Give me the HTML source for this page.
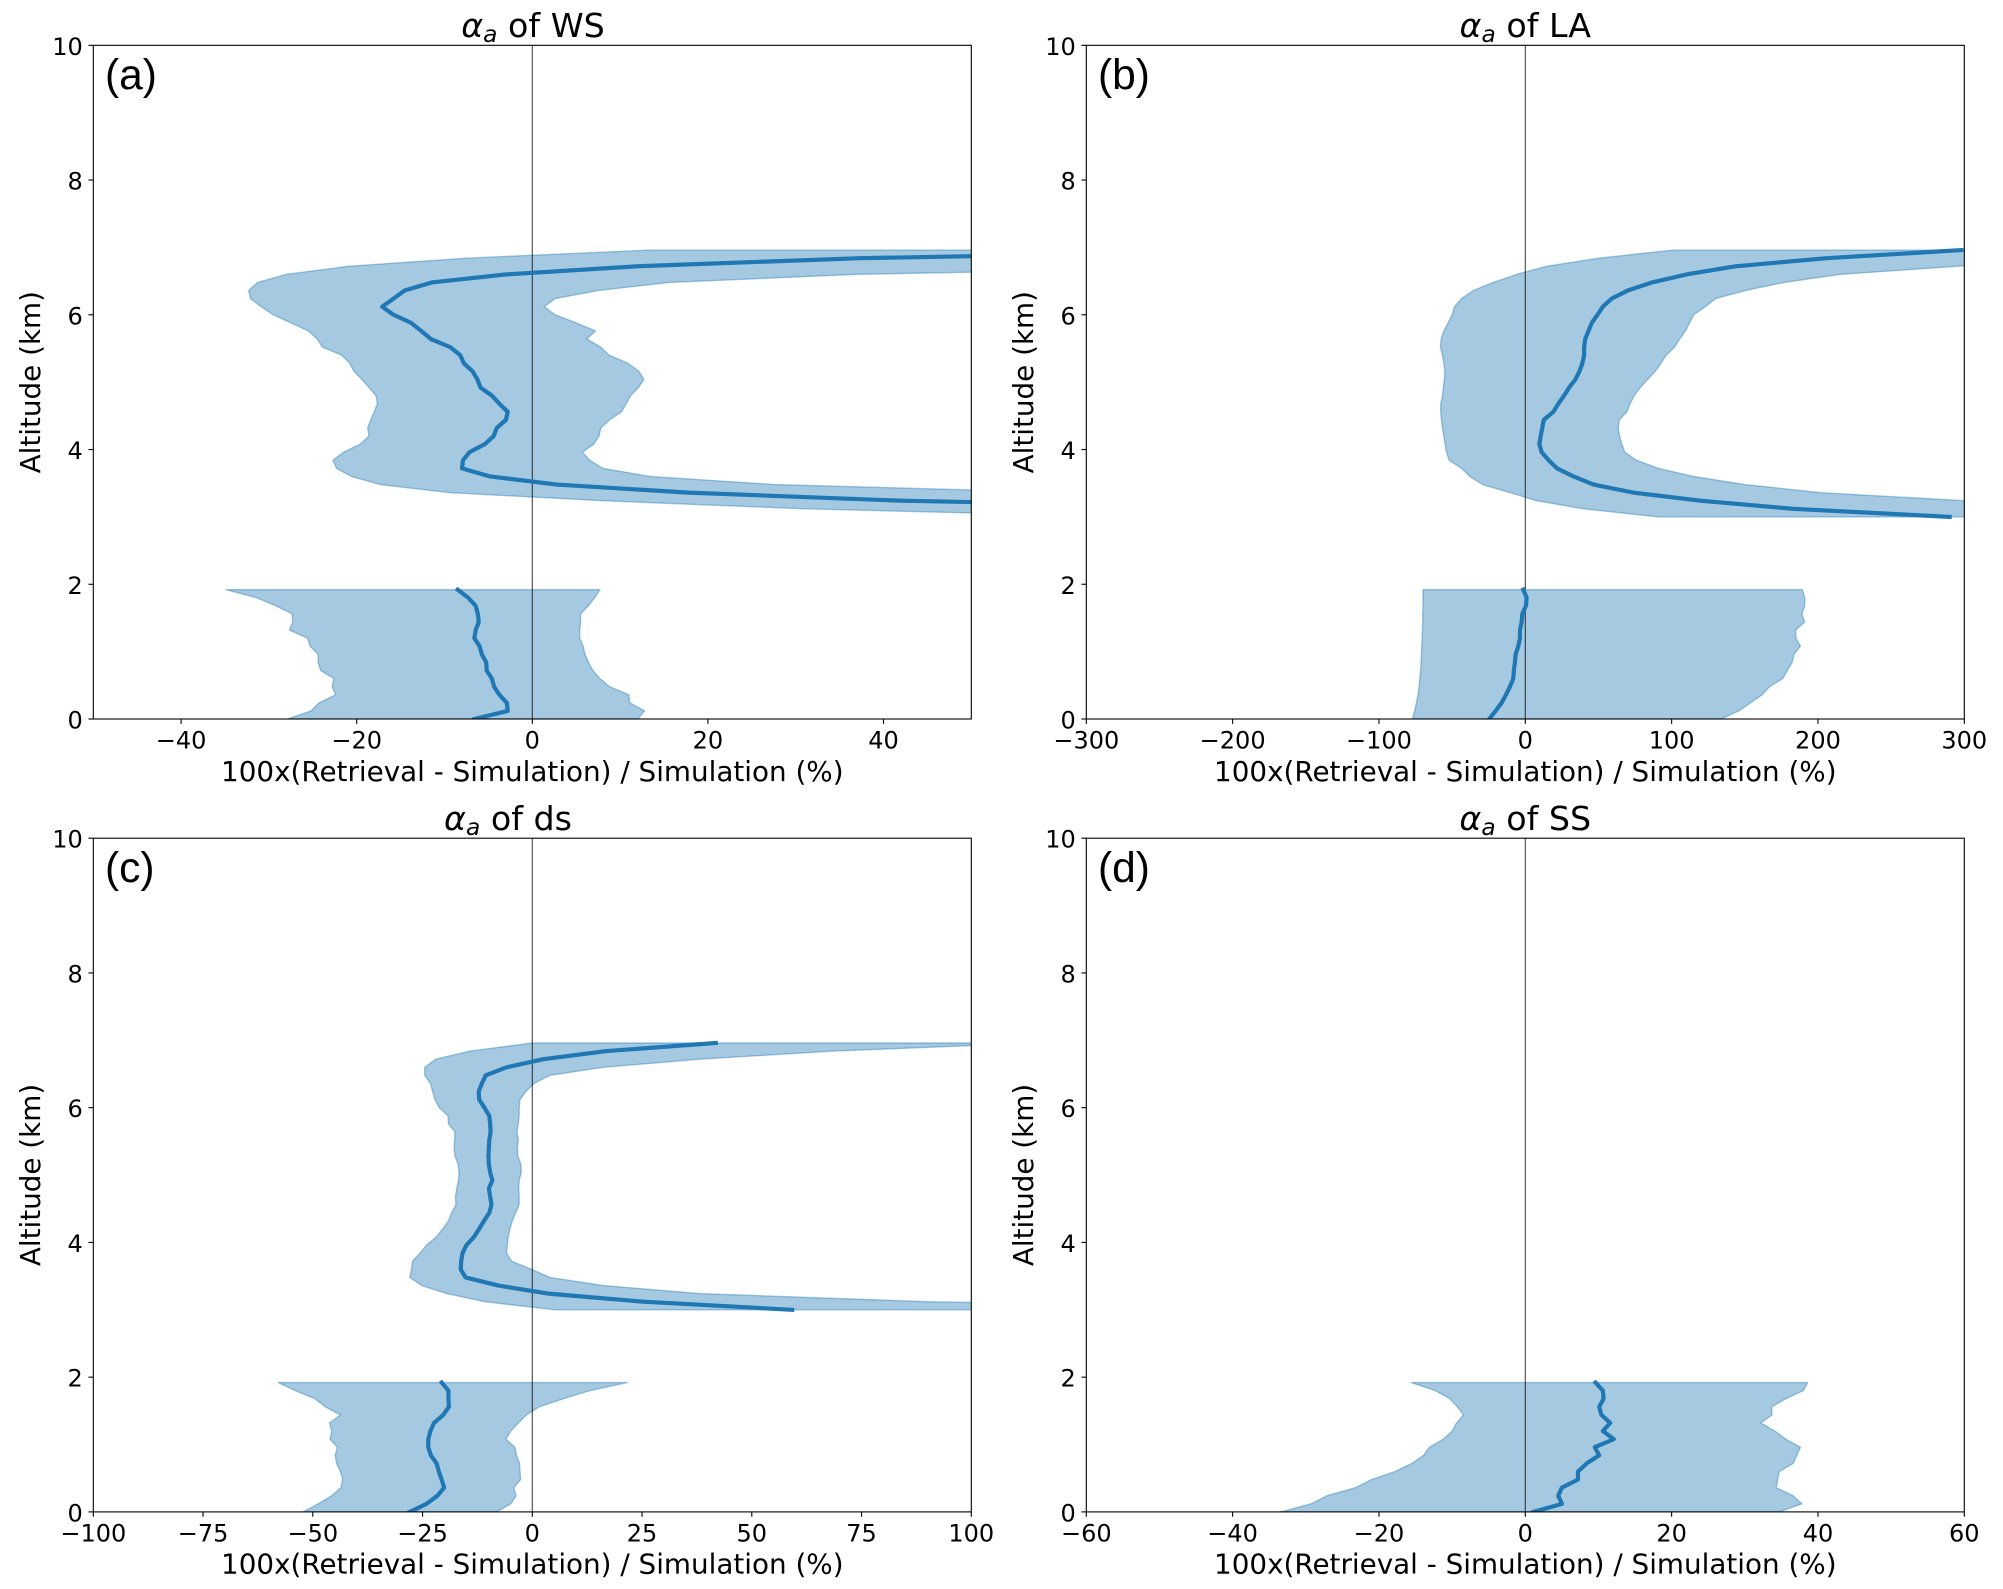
<!DOCTYPE html>
<html lang="en">
<head>
<meta charset="utf-8">
<title>Retrieval error profiles</title>
<style>
html,body{margin:0;padding:0;background:#fff;}
svg{display:block;font-family:"DejaVu Sans",sans-serif;fill:#000;}
.title{font-size:33.3px;}
.xlabel,.ylabel{font-size:27.8px;}
.tick{font-size:24px;}
.letter{font-family:"Liberation Sans",sans-serif;font-size:42.5px;}
</style>
</head>
<body>
<svg id="fig" xmlns="http://www.w3.org/2000/svg" width="2003" height="1589" viewBox="0 0 2003 1589">
  <rect width="2003" height="1589" fill="#fff"/>

  <g id="panel-a">
    <text class="title" x="533" y="37" text-anchor="middle"><tspan font-style="italic">α</tspan><tspan font-style="italic" font-size="23.3" dy="5">a</tspan><tspan dy="-5"> of WS</tspan></text>
    <text class="xlabel" x="532.3" y="781" text-anchor="middle">100x(Retrieval - Simulation) / Simulation (%)</text>
    <text class="ylabel" text-anchor="middle" transform="translate(40,382.2) rotate(-90)">Altitude (km)</text>
    <text class="letter" x="105" y="89">(a)</text>
  </g>

  <g id="panel-b">
    <text class="title" x="1525.3" y="37" text-anchor="middle"><tspan font-style="italic">α</tspan><tspan font-style="italic" font-size="23.3" dy="5">a</tspan><tspan dy="-5"> of LA</tspan></text>
    <text class="xlabel" x="1525.3" y="781" text-anchor="middle">100x(Retrieval - Simulation) / Simulation (%)</text>
    <text class="ylabel" text-anchor="middle" transform="translate(1033,382.2) rotate(-90)">Altitude (km)</text>
    <text class="letter" x="1098" y="89">(b)</text>
  </g>

  <g id="panel-c">
    <text class="title" x="508" y="830" text-anchor="middle"><tspan font-style="italic">α</tspan><tspan font-style="italic" font-size="23.3" dy="5">a</tspan><tspan dy="-5"> of ds</tspan></text>
    <text class="xlabel" x="532.3" y="1573.5" text-anchor="middle">100x(Retrieval - Simulation) / Simulation (%)</text>
    <text class="ylabel" text-anchor="middle" transform="translate(40,1175) rotate(-90)">Altitude (km)</text>
    <text class="letter" x="105" y="882">(c)</text>
  </g>

  <g id="panel-d">
    <text class="title" x="1525.3" y="830" text-anchor="middle"><tspan font-style="italic">α</tspan><tspan font-style="italic" font-size="23.3" dy="5">a</tspan><tspan dy="-5"> of SS</tspan></text>
    <text class="xlabel" x="1525.3" y="1573.5" text-anchor="middle">100x(Retrieval - Simulation) / Simulation (%)</text>
    <text class="ylabel" text-anchor="middle" transform="translate(1033,1175) rotate(-90)">Altitude (km)</text>
    <text class="letter" x="1098" y="882">(d)</text>
  </g>
</svg>

<script>
// Altitude levels (km)
const altLower = [0,0.12,0.24,0.36,0.48,0.60,0.72,0.84,0.96,1.08,1.20,1.32,1.44,1.56,1.68,1.80,1.92];
const altUpper = [3.00,3.12,3.24,3.36,3.48,3.60,3.72,3.84,3.96,4.08,4.20,4.32,4.44,4.56,4.68,4.80,4.92,5.04,5.16,5.28,5.40,5.52,5.64,5.76,5.88,6.00,6.12,6.24,6.36,6.48,6.60,6.72,6.84,6.96];
const altTicks = [0,2,4,6,8,10];
const altTickLabels = ['0','2','4','6','8','10'];

// Panel a: WS
const wsXTicks = [-40,-20,0,20,40];
const wsXLabels = ['\u221240','\u221220','0','20','40'];
const wsMedLow = [-6.6,-2.8,-2.9,-3.75,-4.35,-4.6,-5.2,-5.25,-5.75,-6.0,-6.6,-6.45,-6.1,-6.2,-6.45,-7.3,-8.5];
const wsMinLow = [-27.9,-25.2,-24.3,-22.4,-22.8,-22.6,-24.1,-24.4,-24.4,-25.3,-25.6,-27.65,-27.3,-27.35,-29.2,-31.4,-34.9];
const wsMaxLow = [12,12.8,11.1,11,8.8,7.7,6.9,6.4,6,5.8,5.4,5.4,5.5,5.5,6.4,7.1,7.7];
const wsMedUp = [300,90,42,17.8,2.8,-4.8,-8,-7.9,-7.15,-5.4,-4.4,-4.05,-3,-2.8,-3.75,-4.6,-5.9,-6.25,-6.8,-7.8,-8.2,-9.35,-11.55,-12.65,-13.8,-15.8,-17.1,-15.8,-14.55,-11.45,-2.9,12,37.3,88];
const wsMinUp = [68,31,8,-9.4,-17.3,-20.6,-22.3,-22.7,-21.5,-19.6,-18.6,-18.75,-18.4,-18,-17.65,-17.8,-18.6,-19.4,-20.3,-20.8,-21.7,-23.9,-24.5,-25.5,-27.5,-29.5,-30.9,-32.1,-32.3,-31.3,-28,-20.9,-7.5,13.4];
const wsMaxUp = [300,200,120,61,27.6,13.4,8.07,6.55,5.7,7,7.6,7.8,8.8,10.15,10.7,11.2,12.1,12.7,12.15,10.9,8.75,7.8,6.2,7.2,5,2.6,1.35,2.6,7.5,15.6,37,85,220,350];

// Panel b: LA
const laXTicks = [-300,-200,-100,0,100,200,300];
const laXLabels = ['\u2212300','\u2212200','\u2212100','0','100','200','300'];
const laMedLow = [-24.7,-20.3,-16.2,-13.2,-10.5,-8.2,-7.8,-7.1,-6.6,-4.8,-3.65,-3.65,-2.5,-2.05,0.45,0.9,-1.4];
const laMinLow = [-77.2,-75.6,-74.4,-73.3,-72.6,-72.1,-71.5,-71.2,-71,-70.8,-70.5,-70.3,-70.1,-70.1,-69.9,-69.9,-69.9];
const laMaxLow = [133.8,145.9,153.9,161.9,167,176,179,182.4,183.6,188,185,184.7,190.9,189,190.9,191,189.3];
const laMedUp = [290,183,119.6,74,46.6,33,21.7,16,11.2,9.6,10.5,11.6,12.6,19.2,22.6,26.5,30,34.2,37,39,40.2,40.2,40.9,43.2,45.4,49.3,53,59,70,86.5,110.5,143.6,206,298];
const laMinUp = [91,39.7,7.8,-10.5,-29.2,-37.9,-43.6,-52,-53.9,-54.8,-55.7,-56.6,-57.3,-57.8,-57.8,-56.6,-56,-55.3,-55,-55.7,-56.6,-58,-57.5,-55.7,-52.7,-50,-48.4,-43.6,-35.6,-21.9,-5.9,14.6,50,101];
const laMaxUp = [400,350,300,201.8,150,115,91,76,68,66,64.4,63.5,64.2,69.4,71.7,74.4,78.5,83.6,88.8,92.7,96.3,102,105.5,109.4,112.3,115,123,130,150.5,176.7,215.5,295,400,500];

// Panel c: ds
const dsXTicks = [-100,-75,-50,-25,0,25,50,75,100];
const dsXLabels = ['\u2212100','\u221275','\u221250','\u221225','0','25','50','75','100'];
const dsMedLow = [-27.9,-24.1,-21.6,-20.1,-20.65,-21.3,-21.8,-23.1,-23.7,-23.7,-23.2,-22.4,-20.3,-19,-19.1,-19.1,-20.65];
const dsMinLow = [-52.2,-48.8,-45.7,-43.6,-43.2,-43.7,-44.6,-44.9,-44.4,-46.1,-45.7,-46.2,-43.7,-47.2,-49.5,-54,-57.9];
const dsMaxLow = [-8.1,-4.9,-3.7,-4.2,-2.65,-2.8,-2.9,-3.6,-3.95,-6,-4.9,-3.2,-1.3,1.6,7.1,13.1,21.7];
const dsMedUp = [59.2,25.3,3.6,-7.7,-15.2,-16.3,-16.2,-15.9,-15,-13.3,-12.1,-11,-9.8,-9.3,-9.6,-9.9,-9.1,-9.6,-9.9,-10,-9.9,-9.8,-9.5,-9.6,-9.8,-10.9,-12.1,-12.2,-11.5,-10.6,-5.85,2.5,16.9,41.8];
const dsMinUp = [5.2,-10.8,-19.5,-25.2,-27.9,-27.5,-27.3,-25.6,-24.1,-21.9,-20.4,-19.1,-18.4,-17.4,-17.5,-17.2,-16.8,-16.7,-16.9,-17.6,-17.8,-17.7,-17.6,-19.1,-19.2,-21.2,-22.2,-22.7,-23.2,-24.5,-24.5,-22,-14.2,0];
const dsMaxUp = [200,90,38.2,16.2,4,-0.15,-4.7,-5.85,-5.7,-5.5,-5.1,-4.55,-3.8,-3,-3,-3.1,-3,-2.5,-2.6,-3.3,-3.4,-3.2,-3.5,-3.2,-3,-3,-2.8,-1.45,0.4,4,16.2,38.2,68.6,115];

// Panel d: SS
const ssXTicks = [-60,-40,-20,0,20,40,60];
const ssXLabels = ['\u221260','\u221240','\u221220','0','20','40','60'];
const ssMedLow = [1.1,5,4.5,5,7.2,7.2,8.4,10.1,9.5,12.1,10.6,11.6,10.4,10.1,10.7,10.6,9.6];
const ssMinLow = [-33.4,-29.3,-27.1,-23.2,-21,-17.8,-15.5,-13.9,-13.1,-11.2,-10,-9.4,-8.45,-9.3,-10.3,-12.3,-15.6];
const ssMaxLow = [34.7,37.8,36.6,34.3,34.5,34.7,36.6,37.1,37.6,35.6,34.1,32.2,33.7,33.7,35.6,38,38.6];
const ssMedUp = [];
const ssMinUp = [];
const ssMaxUp = [];

const SVG_NS = 'http://www.w3.org/2000/svg';
const BLUE = '#1f77b4';
const PLOT_W = 878;
const PLOT_H = 673.7;
const ALT_MAX = 10;

const panels = [
  {id:'a', left:93.3,   top:45.3,  xMin:-50,  xMax:50,  ticks:wsXTicks, labels:wsXLabels, medLow:wsMedLow, minLow:wsMinLow, maxLow:wsMaxLow, medUp:wsMedUp, minUp:wsMinUp, maxUp:wsMaxUp},
  {id:'b', left:1086.3, top:45.3,  xMin:-300, xMax:300, ticks:laXTicks, labels:laXLabels, medLow:laMedLow, minLow:laMinLow, maxLow:laMaxLow, medUp:laMedUp, minUp:laMinUp, maxUp:laMaxUp},
  {id:'c', left:93.3,   top:838.2, xMin:-100, xMax:100, ticks:dsXTicks, labels:dsXLabels, medLow:dsMedLow, minLow:dsMinLow, maxLow:dsMaxLow, medUp:dsMedUp, minUp:dsMinUp, maxUp:dsMaxUp},
  {id:'d', left:1086.3, top:838.2, xMin:-60,  xMax:60,  ticks:ssXTicks, labels:ssXLabels, medLow:ssMedLow, minLow:ssMinLow, maxLow:ssMaxLow, medUp:ssMedUp, minUp:ssMinUp, maxUp:ssMaxUp}
];

function make(tag, attrs, parent) {
  const el = document.createElementNS(SVG_NS, tag);
  for (const k in attrs) el.setAttribute(k, attrs[k]);
  parent.appendChild(el);
  return el;
}

function drawPanel(p) {
  const host = document.getElementById('panel-' + p.id);
  const bottom = p.top + PLOT_H;
  const xAt = v => p.left + (v - p.xMin) / (p.xMax - p.xMin) * PLOT_W;
  const yAt = a => bottom - a / ALT_MAX * PLOT_H;

  const clip = make('clipPath', {id:'clip-' + p.id}, host);
  make('rect', {x:p.left, y:p.top, width:PLOT_W, height:PLOT_H}, clip);

  const plot = make('g', {'clip-path':'url(#clip-' + p.id + ')'}, host);
  
  

  const layers = [
    {name:'lower', alts:altLower, med:p.medLow, lo:p.minLow, hi:p.maxLow},
    {name:'upper', alts:altUpper, med:p.medUp, lo:p.minUp, hi:p.maxUp}
  ];

  layers.forEach(layer => {
    if (!layer.med.length) return;
    const fwd = layer.alts.map((a, i) => xAt(layer.lo[i]).toFixed(2) + ',' + yAt(a).toFixed(2));
    const back = layer.alts.map((a, i) => xAt(layer.hi[i]).toFixed(2) + ',' + yAt(a).toFixed(2)).reverse();
    const band = make('polygon', {
      points: fwd.concat(back).join(' '),
      fill: BLUE, 'fill-opacity': 0.4,
      stroke: BLUE, 'stroke-opacity': 0.4, 'stroke-width': 1.4, 'stroke-linejoin': 'round'
    }, plot);
    
    
  });

  const zero = make('line', {x1:xAt(0), x2:xAt(0), y1:p.top, y2:bottom, stroke:'#000', 'stroke-opacity':0.72, 'stroke-width':1.1}, plot);
  
  

  layers.forEach(layer => {
    if (!layer.med.length) return;
    const pts = layer.alts.map((a, i) => xAt(layer.med[i]).toFixed(2) + ',' + yAt(a).toFixed(2)).join(' ');
    const line = make('polyline', {
      points: pts, fill: 'none', stroke: BLUE, 'stroke-width': 4.17,
      'stroke-linejoin': 'round', 'stroke-linecap': 'square'
    }, plot);
    
    
  });

  const frame = make('rect', {x:p.left, y:p.top, width:PLOT_W, height:PLOT_H, fill:'none', stroke:'#000', 'stroke-width':1.1}, host);
  
  

  p.ticks.forEach((t, i) => {
    const x = xAt(t);
    const mark = make('line', {x1:x, x2:x, y1:bottom, y2:bottom + 4.86, stroke:'#000', 'stroke-width':1.1}, host);
    
    
    const label = make('text', {x:x, y:bottom + 29.5, 'text-anchor':'middle', class:'tick'}, host);
    label.textContent = p.labels[i];
    
    
  });

  altTicks.forEach((t, i) => {
    const y = yAt(t);
    const mark = make('line', {x1:p.left - 4.86, x2:p.left, y1:y, y2:y, stroke:'#000', 'stroke-width':1.1}, host);
    
    
    const label = make('text', {x:p.left - 10.5, y:y + 9.5, 'text-anchor':'end', class:'tick'}, host);
    label.textContent = altTickLabels[i];
    
    
  });
}

panels.forEach(drawPanel);
</script>
</body>
</html>
